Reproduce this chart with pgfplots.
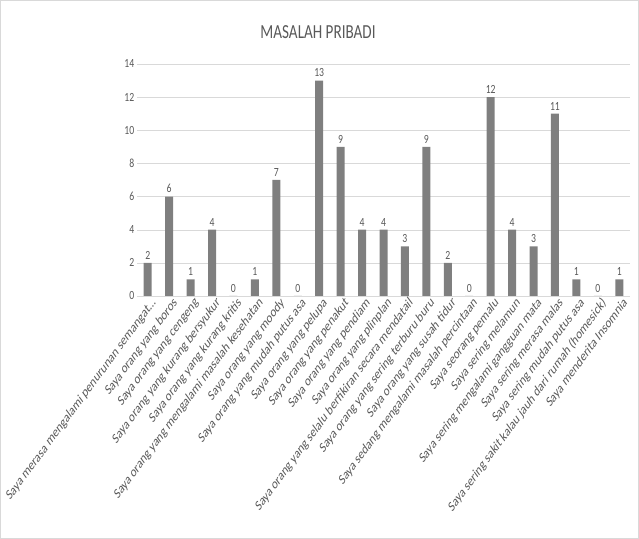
\documentclass[border=0pt]{standalone}
\usepackage{fontspec}
\setmainfont{Carlito}
\usepackage{pgfplots}
\pgfplotsset{compat=1.18}
\definecolor{txt}{HTML}{595959}
\definecolor{barc}{HTML}{7F7F7F}
\definecolor{grid}{HTML}{D9D9D9}
\begin{document}
\begin{tikzpicture}[x=1bp,y=1bp]
\path[use as bounding box] (0,0) rectangle (639,539);
\draw[color=black!15] (0.5,0.5) rectangle (638.5,538.5);
\node[xscale=0.76, font=\fontsize{20}{22}\selectfont, text=txt] at (318,507) {MASALAH PRIBADI};
\begin{axis}[
  at={(137bp,243bp)}, anchor=south west,
  scale only axis, width=493bp, height=232bp,
  xmin=-0.5, xmax=22.5, ymin=0, ymax=14,
  ytick={0,2,4,6,8,10,12,14},
  xtick={0,1,2,3,4,5,6,7,8,9,10,11,12,13,14,15,16,17,18,19,20,21,22},
  xticklabels={
    {Saya merasa mengalami penurunan semangat\ldots},
    {Saya orang yang boros},
    {Saya orang yang cengeng},
    {Saya orang yang kurang bersyukur},
    {Saya orang yang kurang kritis},
    {Saya orang yang mengalami masalah kesehatan},
    {Saya orang yang moody},
    {Saya orang yang mudah putus asa},
    {Saya orang yang pelupa},
    {Saya orang yang penakut},
    {Saya orang yang pendiam},
    {Saya orang yang plinplan},
    {Saya orang yang selalu berfikiran secara mendatail},
    {Saya orang yang sering terburu buru},
    {Saya orang yang susah tidur},
    {Saya sedang mengalami masalah percintaan},
    {Saya seorang pemalu},
    {Saya sering melamun},
    {Saya sering mengalami gangguan mata},
    {Saya sering merasa malas},
    {Saya sering mudah putus asa},
    {Saya sering sakit kalau jauh dari rumah (homesick)},
    {Saya menderita Insomnia}},
  xticklabel style={xscale=0.74, rotate=45, anchor=north east, font=\fontsize{14.5}{15}\selectfont, text=txt, inner sep=1pt, xshift=4bp, yshift=-2bp},
  yticklabel style={xscale=0.78, font=\fontsize{12.5}{13}\selectfont, text=txt},
  /pgf/number format/assume math mode=true,
  axis line style={draw=none},
  axis x line*=bottom,
  x axis line style={draw=grid},
  axis y line*=left,
  y axis line style={draw=none},
  major tick length=0pt,
  ymajorgrids, grid style={draw=grid},
  ybar, bar width=8bp,
  nodes near coords,
  nodes near coords style={xscale=0.78, font=\fontsize{12.5}{13}\selectfont, text=txt},
]
\addplot[fill=barc, draw=none] coordinates {
(0,2) (1,6) (2,1) (3,4) (4,0) (5,1) (6,7) (7,0) (8,13) (9,9) (10,4) (11,4)
(12,3) (13,9) (14,2) (15,0) (16,12) (17,4) (18,3) (19,11) (20,1) (21,0) (22,1)};
\end{axis}
\end{tikzpicture}
\end{document}
